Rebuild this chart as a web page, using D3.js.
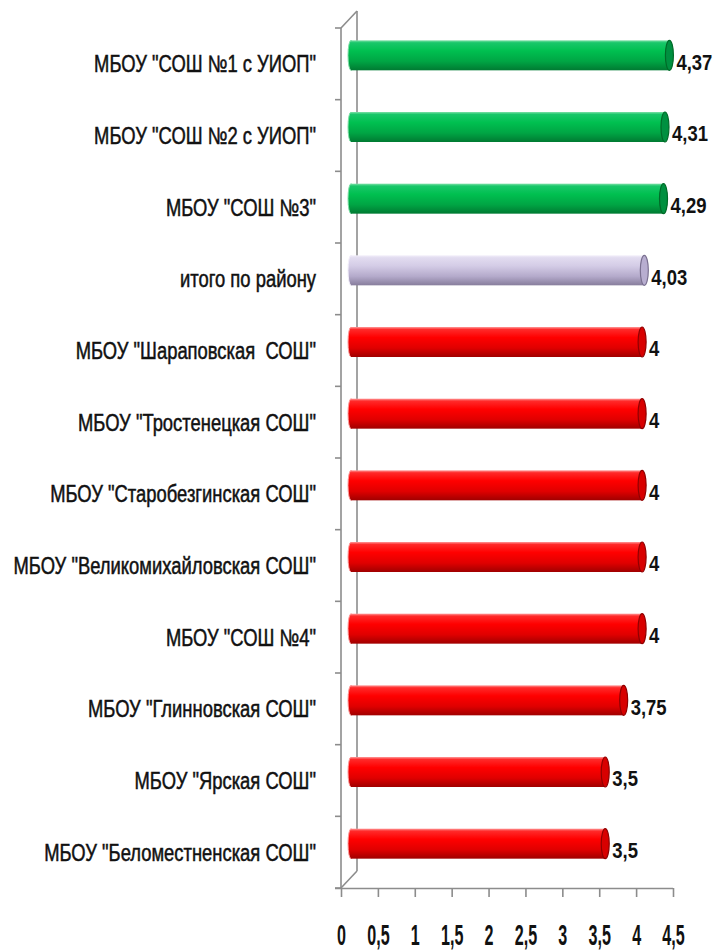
<!DOCTYPE html>
<html><head><meta charset="utf-8">
<script src="https://cdn.jsdelivr.net/npm/d3@7"></script>
<style>
html,body{margin:0;padding:0;background:#fff;}
svg{display:block;}
text{white-space:pre;}
</style></head>
<body>
<script>
const categories = [
  'МБОУ "СОШ №1 с УИОП"',
  'МБОУ "СОШ №2 с УИОП"',
  'МБОУ "СОШ №3"',
  'итого по району',
  'МБОУ "Шараповская  СОШ"',
  'МБОУ "Тростенецкая СОШ"',
  'МБОУ "Старобезгинская СОШ"',
  'МБОУ "Великомихайловская СОШ"',
  'МБОУ "СОШ №4"',
  'МБОУ "Глинновская СОШ"',
  'МБОУ "Ярская СОШ"',
  'МБОУ "Беломестненская СОШ"'
];
const values = [4.37, 4.31, 4.29, 4.03, 4, 4, 4, 4, 4, 3.75, 3.5, 3.5];
const groups = ["top","top","top","total","low","low","low","low","low","low","low","low"];
const tickValues = [0, 0.5, 1, 1.5, 2, 2.5, 3, 3.5, 4, 4.5];

const W = 718, H = 951;
const FONT = "'Liberation Sans','Arial',sans-serif";
const svg = d3.select("body").append("svg").attr("width", W).attr("height", H);

const x0 = 341, x1 = 673, yTop = 28, yBot = 888;
const depthX = 16, depthY = 17;
const x = d3.scaleLinear().domain([0, 4.5]).range([x0, x1]);
const y = d3.scaleBand().domain(categories).range([yTop, yBot]).padding(0);

const palettes = {
  top:   {hi:"#7fe0a8", a:"#19c76a", b:"#00c050", c:"#00a544", d:"#007a32", cap:"#009040", capEdge:"#006a28"},
  total: {hi:"#f2eefa", a:"#e2dcf0", b:"#d4cce6", c:"#b4aacb", d:"#877d9c", cap:"#b8aed0", capEdge:"#7a7090"},
  low:   {hi:"#ff9a9a", a:"#ff2a2a", b:"#ff0000", c:"#e00000", d:"#a00000", cap:"#d80000", capEdge:"#900000"}
};
const defs = svg.append("defs");
Object.entries(palettes).forEach(([k, p]) => {
  const g = defs.append("linearGradient").attr("id", "g_" + k).attr("x1", 0).attr("y1", 0).attr("x2", 0).attr("y2", 1);
  [[0, p.hi],[0.08, p.a],[0.35, p.b],[0.7, p.c],[1, p.d]].forEach(([o, c]) =>
    g.append("stop").attr("offset", o).attr("stop-color", c));
});

// axes frame
const axisColor = "#8c8c8c";
const frame = svg.append("g").attr("stroke", axisColor).attr("stroke-width", 1.6).attr("fill", "none");
frame.append("line").attr("x1", x0).attr("y1", yTop).attr("x2", x0).attr("y2", yBot);
frame.append("line").attr("x1", x0 + depthX).attr("y1", yTop - depthY).attr("x2", x0 + depthX).attr("y2", yBot - depthY);
frame.append("line").attr("x1", x0).attr("y1", yTop).attr("x2", x0 + depthX).attr("y2", yTop - depthY);
frame.append("line").attr("x1", x0).attr("y1", yBot).attr("x2", x0 + depthX).attr("y2", yBot - depthY);
const catTicks = categories.map(c => y(c)).concat([yBot]);
frame.selectAll("line.ct").data(catTicks).join("line").attr("class", "ct")
  .attr("x1", x0 - 6).attr("x2", x0).attr("y1", d => d).attr("y2", d => d);

// x axis
const fmt = d => String(d).replace(".", ",");
const xAxis = d3.axisBottom(x).tickValues(tickValues).tickSize(9).tickSizeOuter(0).tickFormat(fmt);
const gx = svg.append("g").attr("transform", `translate(0,${yBot})`).call(xAxis);
gx.select(".domain").attr("d", `M${x0 - 6},0.5H${x1}`).attr("stroke", axisColor).attr("stroke-width", 1.6);
gx.selectAll(".tick line").attr("stroke", axisColor).attr("stroke-width", 1.6);
gx.selectAll(".tick text").remove();
gx.selectAll(".tick").append("text")
  .attr("transform", "translate(0,47) scale(0.62,1.12)")
  .attr("text-anchor", "middle").attr("dominant-baseline", "central")
  .attr("font-family", FONT)
  .attr("font-size", 26).attr("font-weight", "bold").attr("fill", "#111")
  .text(fmt);

// bars
const barH = 30;
const offX = depthX / 2, offY = depthY / 2;
const bars = svg.append("g").selectAll("g").data(categories).join("g");
bars.each(function(c, i) {
  const g = d3.select(this);
  const p = palettes[groups[i]];
  const cy = y(c) + y.bandwidth() / 2 - offY;
  const xs = x(0) + offX + 2, xe = x(values[i]) + offX - 2;
  g.append("ellipse").attr("cx", xs).attr("cy", cy).attr("rx", 3).attr("ry", barH / 2)
    .attr("fill", "url(#g_" + groups[i] + ")").attr("stroke", p.hi).attr("stroke-width", 1);
  g.append("rect").attr("x", xs).attr("y", cy - barH / 2).attr("width", xe - xs).attr("height", barH)
    .attr("fill", "url(#g_" + groups[i] + ")");
  g.append("ellipse").attr("cx", xe).attr("cy", cy).attr("rx", 4).attr("ry", barH / 2)
    .attr("fill", p.cap).attr("stroke", p.capEdge).attr("stroke-width", 1.2);
  g.append("text")
    .attr("transform", `translate(${xe + 7},${cy + 6}) scale(0.84,1.02)`)
    .attr("dominant-baseline", "central")
    .attr("font-family", FONT)
    .attr("font-size", 22).attr("font-weight", "bold").attr("fill", "#111")
    .text(fmt(values[i]));
});

// category labels
svg.append("g").selectAll("text").data(categories).join("text")
  .attr("transform", c => `translate(316,${y(c) + y.bandwidth() / 2}) scale(0.8,1.03)`)
  .attr("text-anchor", "end").attr("dominant-baseline", "central")
  .attr("font-family", FONT)
  .attr("font-size", 23).attr("fill", "#111")
  .attr("stroke", "#111").attr("stroke-width", 0.5)
  .text(d => d);
</script>
</body></html>
